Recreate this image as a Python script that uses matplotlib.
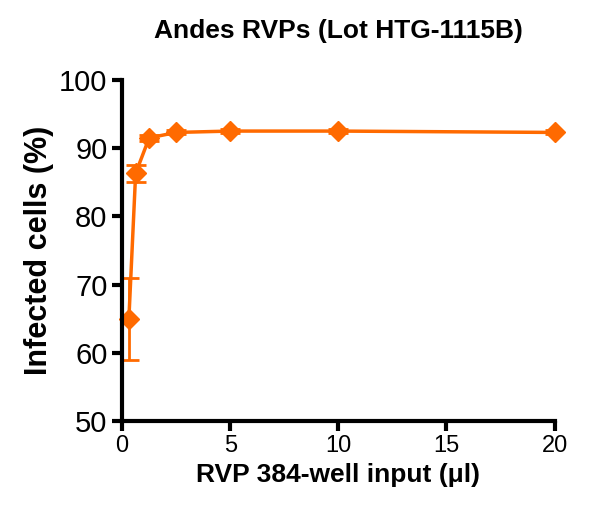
import matplotlib
matplotlib.use("Agg")
import matplotlib.pyplot as plt

plt.rcParams["font.family"] = ["Liberation Sans", "DejaVu Sans"]

x = [0.3125, 0.625, 1.25, 2.5, 5, 10, 20]
y = [65.0, 86.3, 91.5, 92.3, 92.5, 92.5, 92.3]
err = [6.0, 1.2, 0.4, 0.3, 0.3, 0.3, 0.3]
color = "#FF6A00"

fig = plt.figure(figsize=(5.9, 5.19), dpi=100)
ax = fig.add_axes([0.207, 0.189, 0.733, 0.657])
lines = ax.errorbar(x, y, yerr=err, color=color, marker="D", markersize=10, lw=2.5,
                    capsize=7, capthick=2, elinewidth=2)
for a in lines.lines[0:1]:
    a.set_clip_on(False)
ax.set_xlim(0, 20)
ax.set_ylim(50, 100)
ax.set_xticks([0, 5, 10, 15, 20])
ax.set_yticks([50, 60, 70, 80, 90, 100])
for s in ["top", "right"]:
    ax.spines[s].set_visible(False)
for s in ["left", "bottom"]:
    ax.spines[s].set_linewidth(3)
ax.tick_params(width=3, length=7, direction="out")
ax.tick_params(axis="y", labelsize=21)
ax.tick_params(axis="x", labelsize=17)
ax.set_xlabel("RVP 384-well input (\u03bcl)", fontsize=19, fontweight="bold")
ax.set_ylabel("Infected cells (%)", fontsize=22, fontweight="bold")
ax.set_title("Andes RVPs (Lot HTG-1115B)", fontsize=19, fontweight="bold", pad=30)
fig.savefig("out.png", dpi=100)
